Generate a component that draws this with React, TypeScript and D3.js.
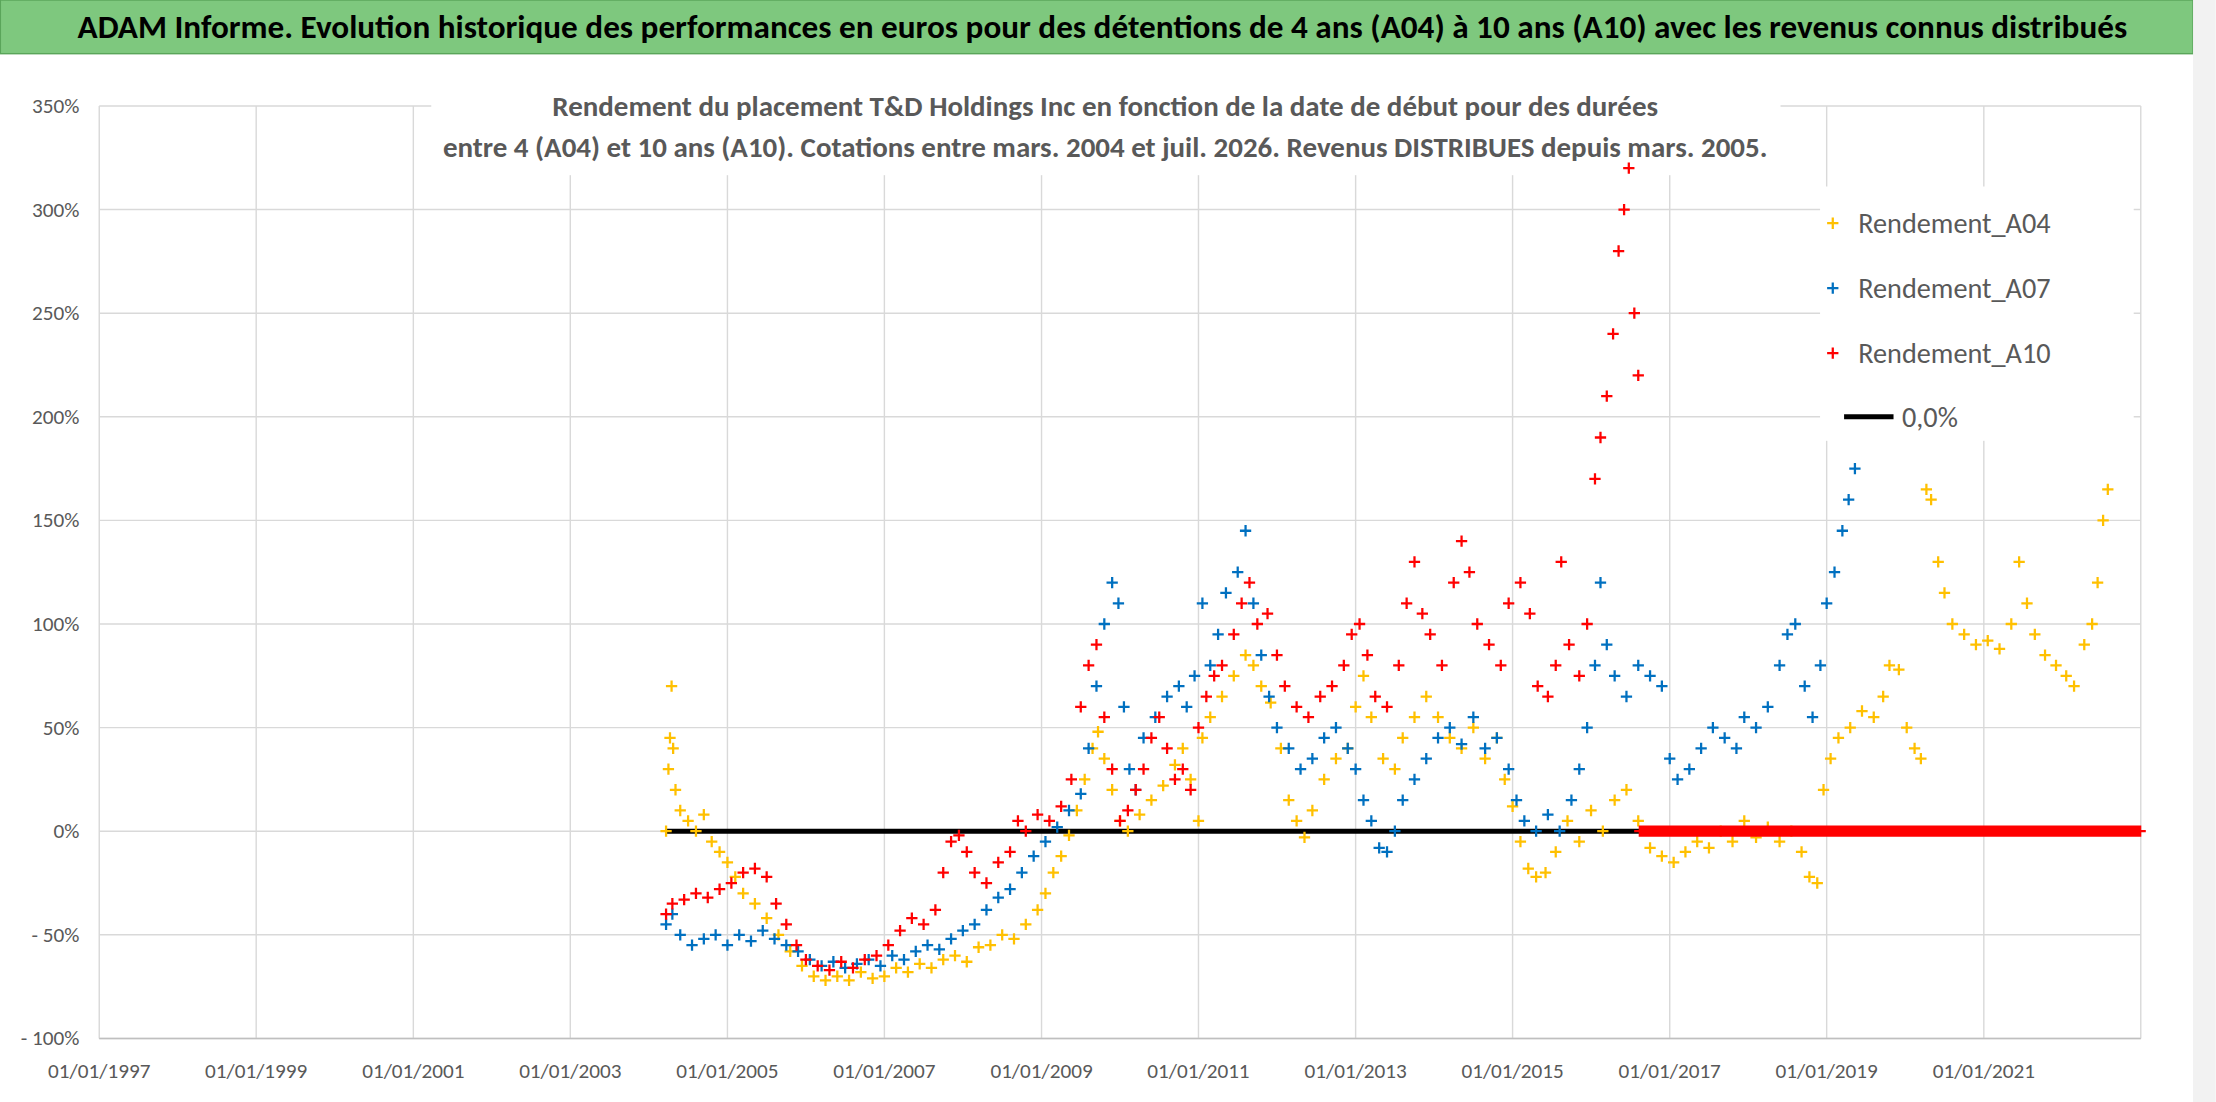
import React from "react";
import * as d3 from "d3";

const title = "ADAM Informe. Evolution historique des performances en euros pour des détentions de 4 ans (A04) à 10 ans (A10) avec les revenus connus distribués";
const subtitle1 = "Rendement du placement T&D Holdings Inc en fonction de la date de début pour des durées";
const subtitle2 = "entre 4 (A04) et 10 ans (A10). Cotations entre mars. 2004 et juil. 2026. Revenus DISTRIBUES depuis mars. 2005.";
const xTickYears = [1997, 1999, 2001, 2003, 2005, 2007, 2009, 2011, 2013, 2015, 2017, 2019, 2021];
const yTicks = [-100, -50, 0, 50, 100, 150, 200, 250, 300, 350];

// [year, rendement %]
const A04: [number, number][] = [
  [2004.22,0],[2004.25,30],[2004.27,45],[2004.29,70],[2004.31,40],[2004.34,20],[2004.4,10],[2004.5,5],[2004.6,0],[2004.7,8],[2004.8,-5],
  [2004.9,-10],[2005.0,-15],[2005.1,-22],[2005.2,-30],[2005.35,-35],[2005.5,-42],[2005.65,-50],[2005.8,-58],[2005.95,-65],[2006.1,-70],
  [2006.25,-72],[2006.4,-70],[2006.55,-72],[2006.7,-68],[2006.85,-71],[2007.0,-70],[2007.15,-66],[2007.3,-68],[2007.45,-64],[2007.6,-66],
  [2007.75,-62],[2007.9,-60],[2008.05,-63],[2008.2,-56],[2008.35,-55],[2008.5,-50],[2008.65,-52],[2008.8,-45],[2008.95,-38],[2009.05,-30],
  [2009.15,-20],[2009.25,-12],[2009.35,-2],[2009.45,10],[2009.55,25],[2009.65,40],[2009.72,48],[2009.8,35],[2009.9,20],[2010.0,5],
  [2010.1,0],[2010.25,8],[2010.4,15],[2010.55,22],[2010.7,32],[2010.8,40],[2010.9,25],[2011.0,5],[2011.05,45],[2011.15,55],[2011.3,65],
  [2011.45,75],[2011.6,85],[2011.7,80],[2011.8,70],[2011.92,62],[2012.05,40],[2012.15,15],[2012.25,5],[2012.35,-3],[2012.45,10],[2012.6,25],
  [2012.75,35],[2012.9,40],[2013.0,60],[2013.1,75],[2013.2,55],[2013.35,35],[2013.5,30],[2013.6,45],[2013.75,55],[2013.9,65],[2014.05,55],
  [2014.2,45],[2014.35,40],[2014.5,50],[2014.65,35],[2014.8,45],[2014.9,25],[2015.0,12],[2015.1,-5],[2015.2,-18],[2015.3,-22],[2015.42,-20],
  [2015.55,-10],[2015.7,5],[2015.85,-5],[2016.0,10],[2016.15,0],[2016.3,15],[2016.45,20],[2016.6,5],[2016.75,-8],[2016.9,-12],[2017.05,-15],
  [2017.2,-10],[2017.35,-5],[2017.5,-8],[2017.65,0],[2017.8,-5],[2017.95,5],[2018.1,-3],[2018.25,2],[2018.4,-5],[2018.55,0],[2018.68,-10],
  [2018.78,-22],[2018.88,-25],[2018.96,20],[2019.05,35],[2019.15,45],[2019.3,50],[2019.45,58],[2019.6,55],[2019.72,65],[2019.8,80],
  [2019.92,78],[2020.02,50],[2020.12,40],[2020.2,35],[2020.27,165],[2020.33,160],[2020.42,130],[2020.5,115],[2020.6,100],[2020.75,95],
  [2020.9,90],[2021.05,92],[2021.2,88],[2021.35,100],[2021.45,130],[2021.55,110],[2021.65,95],[2021.78,85],[2021.92,80],[2022.05,75],
  [2022.15,70],[2022.28,90],[2022.38,100],[2022.45,120],[2022.52,150],[2022.58,165],
];

const A07: [number, number][] = [
  [2004.22,-45],[2004.3,-40],[2004.4,-50],[2004.55,-55],[2004.7,-52],[2004.85,-50],[2005.0,-55],[2005.15,-50],[2005.3,-53],[2005.45,-48],
  [2005.6,-52],[2005.75,-55],[2005.9,-58],[2006.05,-62],[2006.2,-65],[2006.35,-63],[2006.5,-66],[2006.65,-64],[2006.8,-62],[2006.95,-65],
  [2007.1,-60],[2007.25,-62],[2007.4,-58],[2007.55,-55],[2007.7,-57],[2007.85,-52],[2008.0,-48],[2008.15,-45],[2008.3,-38],[2008.45,-32],
  [2008.6,-28],[2008.75,-20],[2008.9,-12],[2009.05,-5],[2009.2,2],[2009.35,10],[2009.5,18],[2009.6,40],[2009.7,70],[2009.8,100],[2009.9,120],
  [2009.98,110],[2010.05,60],[2010.12,30],[2010.2,20],[2010.3,45],[2010.45,55],[2010.6,65],[2010.75,70],[2010.85,60],[2010.95,75],
  [2011.05,110],[2011.15,80],[2011.25,95],[2011.35,115],[2011.5,125],[2011.6,145],[2011.7,110],[2011.8,85],[2011.9,65],[2012.0,50],
  [2012.15,40],[2012.3,30],[2012.45,35],[2012.6,45],[2012.75,50],[2012.9,40],[2013.0,30],[2013.1,15],[2013.2,5],[2013.3,-8],[2013.4,-10],
  [2013.5,0],[2013.6,15],[2013.75,25],[2013.9,35],[2014.05,45],[2014.2,50],[2014.35,42],[2014.5,55],[2014.65,40],[2014.8,45],[2014.95,30],
  [2015.05,15],[2015.15,5],[2015.3,0],[2015.45,8],[2015.6,0],[2015.75,15],[2015.85,30],[2015.95,50],[2016.05,80],[2016.12,120],[2016.2,90],
  [2016.3,75],[2016.45,65],[2016.6,80],[2016.75,75],[2016.9,70],[2017.0,35],[2017.1,25],[2017.25,30],[2017.4,40],[2017.55,50],[2017.7,45],
  [2017.85,40],[2017.95,55],[2018.1,50],[2018.25,60],[2018.4,80],[2018.5,95],[2018.6,100],[2018.72,70],[2018.82,55],[2018.92,80],[2019.0,110],
  [2019.1,125],[2019.2,145],[2019.28,160],[2019.36,175],
];

const A10: [number, number][] = [
  [2004.22,-40],[2004.3,-35],[2004.45,-33],[2004.6,-30],[2004.75,-32],[2004.9,-28],[2005.05,-25],[2005.2,-20],[2005.35,-18],[2005.5,-22],
  [2005.62,-35],[2005.75,-45],[2005.88,-55],[2006.0,-62],[2006.15,-65],[2006.3,-67],[2006.45,-63],[2006.6,-66],[2006.75,-62],[2006.9,-60],
  [2007.05,-55],[2007.2,-48],[2007.35,-42],[2007.5,-45],[2007.65,-38],[2007.75,-20],[2007.85,-5],[2007.95,-2],[2008.05,-10],[2008.15,-20],
  [2008.3,-25],[2008.45,-15],[2008.6,-10],[2008.7,5],[2008.8,0],[2008.95,8],[2009.1,5],[2009.25,12],[2009.38,25],[2009.5,60],[2009.6,80],
  [2009.7,90],[2009.8,55],[2009.9,30],[2010.0,5],[2010.1,10],[2010.2,20],[2010.3,30],[2010.4,45],[2010.5,55],[2010.6,40],[2010.7,25],
  [2010.8,30],[2010.9,20],[2011.0,50],[2011.1,65],[2011.2,75],[2011.3,80],[2011.45,95],[2011.55,110],[2011.65,120],[2011.75,100],
  [2011.88,105],[2012.0,85],[2012.1,70],[2012.25,60],[2012.4,55],[2012.55,65],[2012.7,70],[2012.85,80],[2012.95,95],[2013.05,100],
  [2013.15,85],[2013.25,65],[2013.4,60],[2013.55,80],[2013.65,110],[2013.75,130],[2013.85,105],[2013.95,95],[2014.1,80],[2014.25,120],
  [2014.35,140],[2014.45,125],[2014.55,100],[2014.7,90],[2014.85,80],[2014.95,110],[2015.1,120],[2015.22,105],[2015.32,70],[2015.45,65],
  [2015.55,80],[2015.62,130],[2015.72,90],[2015.85,75],[2015.95,100],[2016.05,170],[2016.12,190],[2016.2,210],[2016.28,240],[2016.35,280],
  [2016.42,300],[2016.48,320],[2016.55,250],[2016.6,220],
];

// A10 is 0 from its last real date to the end of the axis; the 0,0% reference line spans the quoted period.
const A10ZeroRange: [number, number] = [2016.62, 2023.0];
const zeroLineRange: [number, number] = [2004.22, 2016.62];

const W = 1568, H = 780;
const left = 70, right = 1515, top = 75, bottom = 735;

const yearToDate = (y: number) => {
  const yr = Math.floor(y);
  const s = new Date(yr, 0, 1).getTime();
  const e = new Date(yr + 1, 0, 1).getTime();
  return new Date(s + (e - s) * (y - yr));
};

export default function App() {
  const x = d3.scaleTime().domain([new Date(1997, 0, 1), new Date(2023, 0, 1)]).range([left, right]);
  const y = d3.scaleLinear().domain([-100, 350]).range([bottom, top]);
  const fmt = d3.timeFormat("%d/%m/%Y");
  const plus = (cx: number, cy: number, s = 4) => `M${cx - s},${cy}H${cx + s}M${cx},${cy - s}V${cy + s}`;
  const pathFor = (data: [number, number][]) => data.map(([t, v]) => plus(x(yearToDate(t)), y(v))).join("");
  const zeros = d3.range(A10ZeroRange[0], A10ZeroRange[1], 0.012).map((t) => [t, 0] as [number, number]);
  const yLabel = (v: number) => (v < 0 ? `- ${-v}%` : `${v}%`);
  const gray = "#595959";
  return (
    <svg width={2216} height={1102} viewBox={`0 0 ${W} ${H}`} style={{ position: "absolute", left: 0, top: 0 }} fontFamily="Calibri, Carlito, 'Liberation Sans', Arial, sans-serif">
      <rect x={0} y={0} width={W} height={H} fill="#fff" />
      <rect x={0} y={0} width={1552} height={38} fill="#7ec87e" stroke="#5aa55a" />
      <rect x={1552} y={0} width={16} height={H} fill="#f2f2f2" />
      <text x={780} y={27} textAnchor="middle" fontWeight="bold" fontSize={23.5} fill="#000">{title}</text>
      {yTicks.map((v) => (
        <g key={v}>
          <line x1={left} x2={right} y1={y(v)} y2={y(v)} stroke="#d9d9d9" strokeWidth={1} />
          <text x={56} y={y(v) + 5} textAnchor="end" fontSize={15} fill={gray}>{yLabel(v)}</text>
        </g>
      ))}
      {xTickYears.map((yr) => {
        const d = new Date(yr, 0, 1);
        return (
          <g key={yr}>
            <line x1={x(d)} x2={x(d)} y1={top} y2={bottom} stroke="#d9d9d9" />
            <text x={x(d)} y={763} textAnchor="middle" fontSize={15} fill={gray}>{fmt(d)}</text>
          </g>
        );
      })}
      <line x1={right} x2={right} y1={top} y2={bottom} stroke="#d9d9d9" />
      <line x1={left} x2={right} y1={bottom} y2={bottom} stroke="#bfbfbf" />
      <rect x={305} y={58} width={955} height={66} fill="#fff" />
      <text x={782} y={82} textAnchor="middle" fontWeight="bold" fontSize={20.5} fill={gray}>{subtitle1}</text>
      <text x={782} y={111} textAnchor="middle" fontWeight="bold" fontSize={20.5} fill={gray}>{subtitle2}</text>
      <line x1={x(yearToDate(zeroLineRange[0]))} x2={x(yearToDate(zeroLineRange[1]))} y1={y(0)} y2={y(0)} stroke="#000" strokeWidth={3.5} />
      <path d={pathFor(A04)} stroke="#FFC000" strokeWidth={1.6} fill="none" />
      <path d={pathFor(A07)} stroke="#0070C0" strokeWidth={1.6} fill="none" />
      <path d={pathFor(A10)} stroke="#FF0000" strokeWidth={1.6} fill="none" />
      <path d={pathFor(zeros)} stroke="#FF0000" strokeWidth={1.6} fill="none" />
      <rect x={1288} y={132} width={222} height={180} fill="#fff" />
      {[["Rendement_A04", "#FFC000"], ["Rendement_A07", "#0070C0"], ["Rendement_A10", "#FF0000"]].map(([n, c], i) => (
        <g key={n}>
          <path d={plus(1297, 158 + i * 46)} stroke={c} strokeWidth={1.6} />
          <text x={1315} y={165 + i * 46} fontSize={20} fill={gray}>{n}</text>
        </g>
      ))}
      <line x1={1305} x2={1340} y1={295} y2={295} stroke="#000" strokeWidth={3.5} />
      <text x={1346} y={302} fontSize={20} fill={gray}>0,0%</text>
    </svg>
  );
}
